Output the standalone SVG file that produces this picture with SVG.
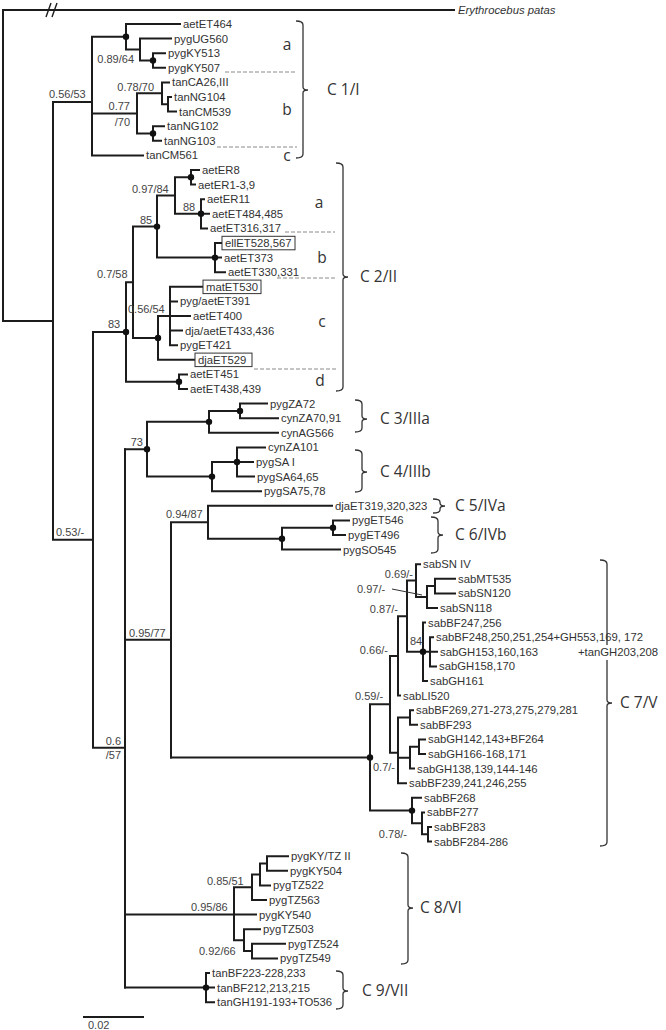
<svg xmlns="http://www.w3.org/2000/svg" width="666" height="1030" viewBox="0 0 666 1030">
<style>
.br{fill:none;stroke:#1c1c1c;stroke-width:2;stroke-linecap:square}
.lf{font-family:"Liberation Sans",Arial,sans-serif;font-size:11.3px;fill:#333}
.sp{font-family:"Liberation Sans",Arial,sans-serif;font-size:11px;fill:#444}
.cl{font-family:"Open Sans","Liberation Sans",sans-serif;font-size:15.5px;fill:#333}
.bk{fill:none;stroke:#333;stroke-width:1.3}
.ds{fill:none;stroke:#8a8a8a;stroke-width:1;stroke-dasharray:4 2}
.bx{fill:none;stroke:#333;stroke-width:1}
.dt{fill:#111}
</style>
<rect width="666" height="1030" fill="#fff"/>
<g id="connectors">
<path class="br" d="M3,10 H454 M3,10 V320.9 M3,320.9 H53 M53,101.9 V539.85 M53,539.85 H93 M93,332 V747.7 M93,747.7 H125 M125,449.2 V987.6"/>
<path d="M46,17 L51,3 M52,17 L57,3" stroke="#1c1c1c" stroke-width="1.4" fill="none"/>
<path class="br" d="M53,101.9 H92 M92,36.8 V155.4 M92,36.8 H126 M92,113.4 H137 M92,155.4 H143 M126,24 V49.55 M126,24 H180 M126,49.55 H140 M140,38.6 V60.5 M140,38.6 H171 M140,60.5 H153 M153,53.2 V67.8 M153,53.2 H165 M153,67.8 H165 M137,93.35 V133.5 M137,93.35 H162 M137,133.5 H153 M162,82.4 V104.3 M162,82.4 H169 M162,104.3 H168 M168,97 V111.6 M168,97 H171 M168,111.6 H176 M153,126.2 V140.8 M153,126.2 H164 M153,140.8 H161"/>
<path class="br" d="M93,332 H126 M126,282.25 V381.7 M126,282.25 H133 M126,381.7 H179 M133,226.6 V337.9 M133,226.6 H157 M157,195.55 V257.6 M157,195.55 H175 M157,257.6 H215 M175,177.3 V213.8 M175,177.3 H191 M175,213.8 H201 M191,170 V184.6 M191,170 H199 M191,184.6 H195 M201,199.2 V228.4 M201,199.2 H204 M201,213.8 H209 M201,228.4 H207 M215,243 V272.2 M215,243 H221 M215,257.6 H221 M215,272.2 H225 M133,337.9 H158 M158,316 V359.8 M158,316 H190 M158,359.8 H194 M170,286.8 V345.2 M170,286.8 H202 M170,301.4 H177 M170,330.6 H182 M170,345.2 H177 M179,374.4 V389 M179,374.4 H187 M179,389 H187"/>
<path class="br" d="M125,449.2 H147 M147,421.85 V476.6 M147,421.85 H209 M147,476.6 H212 M209,410.9 V432.8 M209,410.9 H240 M209,432.8 H278 M240,403.6 V418.2 M240,403.6 H267 M240,418.2 H278 M212,462 V491.2 M212,462 H237 M212,491.2 H261 M237,447.4 V476.6 M237,447.4 H265 M237,462 H253 M237,476.6 H254"/>
<path class="br" d="M125,639.85 H171 M171,522.2 V757.5 M171,522.2 H208 M208,505.8 V538.65 M208,505.8 H332 M208,538.65 H282 M282,527.7 V549.6 M282,527.7 H333 M282,549.6 H340 M333,520.4 V535 M333,520.4 H349 M333,535 H345"/>
<path class="br" d="M171,757.5 H370 M370,704.35 V810.6 M370,704.35 H390 M370,810.6 H412 M390,655.9 V752.8 M390,655.9 H398 M390,752.8 H398 M398,616.2 V695.6 M398,616.2 H407 M398,695.6 H400 M407,580.6 V651.8 M407,580.6 H416 M407,651.8 H437 M416,564.2 V597.05 M416,564.2 H420 M416,597.05 H427 M427,586.1 V608 M427,586.1 H435 M427,608 H437 M435,578.8 V593.4 M435,578.8 H455 M435,593.4 H455 M423,622.6 V681 M423,622.6 H425 M423,681 H427 M430,637.2 V666.4 M430,637.2 H433 M430,666.4 H436 M398,717.5 V783.2 M398,717.5 H410 M398,757.65 H410 M398,783.2 H406 M410,710.2 V724.8 M410,710.2 H413 M410,724.8 H417 M410,746.7 V768.6 M410,746.7 H419 M410,768.6 H414 M419,739.4 V754 M419,739.4 H425 M419,754 H425 M412,797.8 V823.35 M412,797.8 H421 M412,823.35 H422 M422,812.4 V834.3 M422,812.4 H424 M422,834.3 H428 M428,827 V841.6 M428,827 H431 M428,841.6 H431"/>
<path class="br" d="M125,914.6 H256 M234,887.2 V940.15 M234,887.2 H252 M234,940.15 H244 M252,874.45 V900 M252,874.45 H260 M252,900 H266 M260,863.5 V885.4 M260,863.5 H267 M260,885.4 H270 M267,856.2 V870.8 M267,856.2 H288 M267,870.8 H287 M244,929.2 V951.1 M244,929.2 H260 M244,951.1 H252 M252,943.8 V958.4 M252,943.8 H285 M252,958.4 H277 M125,987.6 H214 M206,973 V1002.2 M206,973 H209 M206,1002.2 H214"/>
<g class="dt">
<circle cx="126" cy="36.8" r="3.2"/><circle cx="153" cy="60.5" r="3.2"/><circle cx="153" cy="133.5" r="3.2"/>
<circle cx="191" cy="177.3" r="3.2"/><circle cx="201" cy="213.8" r="3.2"/><circle cx="157" cy="226.6" r="3.2"/>
<circle cx="215" cy="257.6" r="3.2"/><circle cx="158" cy="337.9" r="3.2"/><circle cx="126" cy="332" r="3.2"/>
<circle cx="179" cy="381.7" r="3.2"/><circle cx="147" cy="449.2" r="3.2"/><circle cx="209" cy="421.85" r="3.2"/>
<circle cx="240" cy="410.9" r="3.2"/><circle cx="212" cy="476.6" r="3.2"/><circle cx="237" cy="462" r="3.2"/>
<circle cx="282" cy="538.65" r="3.2"/><circle cx="333" cy="527.7" r="3.2"/><circle cx="423" cy="651.8" r="3.2"/>
<circle cx="370" cy="757.5" r="3.2"/><circle cx="412" cy="810.6" r="3.2"/><circle cx="206" cy="987.6" r="3.2"/>
</g>
<path d="M392,589 L422,595" stroke="#333" stroke-width="1" fill="none"/>
<path class="br" d="M84,1017 H143"/>
</g>
<g id="support" class="sp">
<text x="49" y="98">0.56/53</text>
<text x="134" y="63" text-anchor="end">0.89/64</text>
<text x="154" y="91" text-anchor="end">0.78/70</text>
<text x="130" y="110" text-anchor="end">0.77</text>
<text x="130" y="126" text-anchor="end">/70</text>
<text x="132" y="193">0.97/84</text>
<text x="183" y="211">88</text>
<text x="140" y="224">85</text>
<text x="97" y="278">0.7/58</text>
<text x="128" y="313">0.56/54</text>
<text x="108" y="328">83</text>
<text x="143" y="446" text-anchor="end">73</text>
<text x="56" y="536">0.53/-</text>
<text x="166" y="518">0.94/87</text>
<text x="129" y="637">0.95/77</text>
<text x="121" y="745" text-anchor="end">0.6</text>
<text x="121" y="759" text-anchor="end">/57</text>
<text x="413" y="578" text-anchor="end">0.69/-</text>
<text x="357" y="593">0.97/-</text>
<text x="398" y="613" text-anchor="end">0.87/-</text>
<text x="388" y="654" text-anchor="end">0.66/-</text>
<text x="410" y="645">84</text>
<text x="355" y="700">0.59/-</text>
<text x="373" y="771">0.7/-</text>
<text x="407" y="838" text-anchor="end">0.78/-</text>
<text x="207" y="885">0.85/51</text>
<text x="191" y="911">0.95/86</text>
<text x="199" y="955">0.92/66</text>
<text x="88" y="1029">0.02</text>
</g>
<g id="outgroup"><text class="lf" x="458" y="14" font-style="italic">Erythrocebus patas</text></g>
<g id="clade-C1" class="lf">
<text id="n0" x="183" y="28">aetET464</text>
<text id="n1" x="174" y="42.6">pygUG560</text>
<text id="n2" x="168" y="57.2">pygKY513</text>
<text id="n3" x="168" y="71.8">pygKY507</text>
<text id="n4" x="172" y="86.4">tanCA26,III</text>
<text id="n5" x="174" y="101">tanNG104</text>
<text id="n6" x="179" y="115.6">tanCM539</text>
<text id="n7" x="167" y="130.2">tanNG102</text>
<text id="n8" x="164" y="144.8">tanNG103</text>
<text id="n9" x="146" y="159.4">tanCM561</text>
</g>
<g id="clade-C2" class="lf">
<text id="n10" x="202" y="174">aetER8</text>
<text id="n11" x="198" y="188.6">aetER1-3,9</text>
<text id="n12" x="207" y="203.2">aetER11</text>
<text id="n13" x="212" y="217.8">aetET484,485</text>
<text id="n14" x="210" y="232.4">aetET316,317</text>
<g id="n15"><rect class="bx" x="222" y="236.3" width="73" height="13.5"/><text x="225" y="247">ellET528,567</text></g>
<text id="n16" x="224" y="261.6">aetET373</text>
<text id="n17" x="228" y="276.2">aetET330,331</text>
<g id="n18"><rect class="bx" x="203" y="280.1" width="58" height="13.5"/><text x="206" y="290.8">matET530</text></g>
<text id="n19" x="180" y="305.4">pyg/aetET391</text>
<text id="n20" x="193" y="320">aetET400</text>
<text id="n21" x="185" y="334.6">dja/aetET433,436</text>
<text id="n22" x="180" y="349.2">pygET421</text>
<g id="n23"><rect class="bx" x="195" y="353.1" width="57" height="13.5"/><text x="198" y="363.8">djaET529</text></g>
<text id="n24" x="190" y="378.4">aetET451</text>
<text id="n25" x="190" y="393">aetET438,439</text>
</g>
<g id="clade-C3-C4" class="lf">
<text id="n26" x="270" y="407.6">pygZA72</text>
<text id="n27" x="281" y="422.2">cynZA70,91</text>
<text id="n28" x="281" y="436.8">cynAG566</text>
<text id="n29" x="268" y="451.4">cynZA101</text>
<text id="n30" x="256" y="466">pygSA I</text>
<text id="n31" x="257" y="480.6">pygSA64,65</text>
<text id="n32" x="264" y="495.2">pygSA75,78</text>
</g>
<g id="clade-C5-C6" class="lf">
<text id="n33" x="335" y="509.8">djaET319,320,323</text>
<text id="n34" x="352" y="524.4">pygET546</text>
<text id="n35" x="348" y="539">pygET496</text>
<text id="n36" x="343" y="553.6">pygSO545</text>
</g>
<g id="clade-C7" class="lf">
<text id="n37" x="423" y="568.2">sabSN IV</text>
<text id="n38" x="458" y="582.8">sabMT535</text>
<text id="n39" x="458" y="597.4">sabSN120</text>
<text id="n40" x="440" y="612">sabSN118</text>
<text id="n41" x="428" y="626.6">sabBF247,256</text>
<text id="n42" x="436" y="641.2">sabBF248,250,251,254+GH553,169, 172</text>
<text id="n42b" x="578" y="655.8">+tanGH203,208</text>
<text id="n43" x="440" y="655.8">sabGH153,160,163</text>
<text id="n44" x="439" y="670.4">sabGH158,170</text>
<text id="n45" x="430" y="685">sabGH161</text>
<text id="n46" x="403" y="699.6">sabLI520</text>
<text id="n47" x="416" y="714.2">sabBF269,271-273,275,279,281</text>
<text id="n48" x="420" y="728.8">sabBF293</text>
<text id="n49" x="428" y="743.4">sabGH142,143+BF264</text>
<text id="n50" x="428" y="758">sabGH166-168,171</text>
<text id="n51" x="417" y="772.6">sabGH138,139,144-146</text>
<text id="n52" x="409" y="787.2">sabBF239,241,246,255</text>
<text id="n53" x="424" y="801.8">sabBF268</text>
<text id="n54" x="427" y="816.4">sabBF277</text>
<text id="n55" x="434" y="831">sabBF283</text>
<text id="n56" x="434" y="845.6">sabBF284-286</text>
</g>
<g id="clade-C8" class="lf">
<text id="n57" x="291" y="860.2">pygKY/TZ II</text>
<text id="n58" x="290" y="874.8">pygKY504</text>
<text id="n59" x="273" y="889.4">pygTZ522</text>
<text id="n60" x="269" y="904">pygTZ563</text>
<text id="n61" x="259" y="918.6">pygKY540</text>
<text id="n62" x="263" y="933.2">pygTZ503</text>
<text id="n63" x="288" y="947.8">pygTZ524</text>
<text id="n64" x="280" y="962.4">pygTZ549</text>
</g>
<g id="clade-C9" class="lf">
<text id="n65" x="212" y="977">tanBF223-228,233</text>
<text id="n66" x="217" y="991.6">tanBF212,213,215</text>
<text id="n67" x="217" y="1006.2">tanGH191-193+TO536</text>
</g>
<g id="subgroups">
<path class="ds" d="M225,72 H297 M217,147 H297 M285,232 H335 M277,278 H335 M254,369 H337"/>
<g class="cl">
<text x="287" y="50" text-anchor="middle">a</text>
<text x="287" y="115" text-anchor="middle">b</text>
<text x="287" y="161" text-anchor="middle">c</text>
<text x="319" y="208" text-anchor="middle">a</text>
<text x="322" y="263" text-anchor="middle">b</text>
<text x="322" y="327" text-anchor="middle">c</text>
<text x="320" y="386" text-anchor="middle">d</text>
</g>
</g>
<g id="brackets">
<path class="bk" d="M296,21 Q303,21 303,25 V87 Q303,90 308,90 Q303,90 303,93 V154 Q303,158 296,158"/>
<path class="bk" d="M336,163 Q343,163 343,167 V274 Q343,277 348,277 Q343,277 343,280 V387 Q343,391 336,391"/>
<path class="bk" d="M355,400 Q362,400 362,404 V416 Q362,419 367,419 Q362,419 362,422 V428 Q362,432 355,432"/>
<path class="bk" d="M355,450 Q362,450 362,454 V469 Q362,472 367,472 Q362,472 362,475 V488 Q362,492 355,492"/>
<path class="bk" d="M433,499 Q440,499 440,502 V503 Q440,506 445,506 Q440,506 440,509 V510 Q440,513 433,513"/>
<path class="bk" d="M431,517 Q438,517 438,521 V532 Q438,535 443,535 Q438,535 438,538 V549 Q438,553 431,553"/>
<path class="bk" d="M600,560 Q607,560 607,564 V645 M607,660 V700 Q607,703 612,703 Q607,703 607,706 V842 Q607,846 600,846"/>
<path class="bk" d="M401,853 Q408,853 408,857 V905 Q408,908 413,908 Q408,908 408,911 V960 Q408,964 401,964"/>
<path class="bk" d="M336,971 Q343,971 343,975 V988 Q343,991 348,991 Q343,991 343,994 V1005 Q343,1009 336,1009"/>
<g class="cl">
<text x="327" y="95">C 1/I</text>
<text x="360" y="282">C 2/II</text>
<text x="380" y="424">C 3/IIIa</text>
<text x="380" y="477">C 4/IIIb</text>
<text x="455" y="511">C 5/IVa</text>
<text x="455" y="540">C 6/IVb</text>
<text x="620" y="708">C 7/V</text>
<text x="420" y="913">C 8/VI</text>
<text x="362" y="996">C 9/VII</text>
</g>
</g>
</svg>
